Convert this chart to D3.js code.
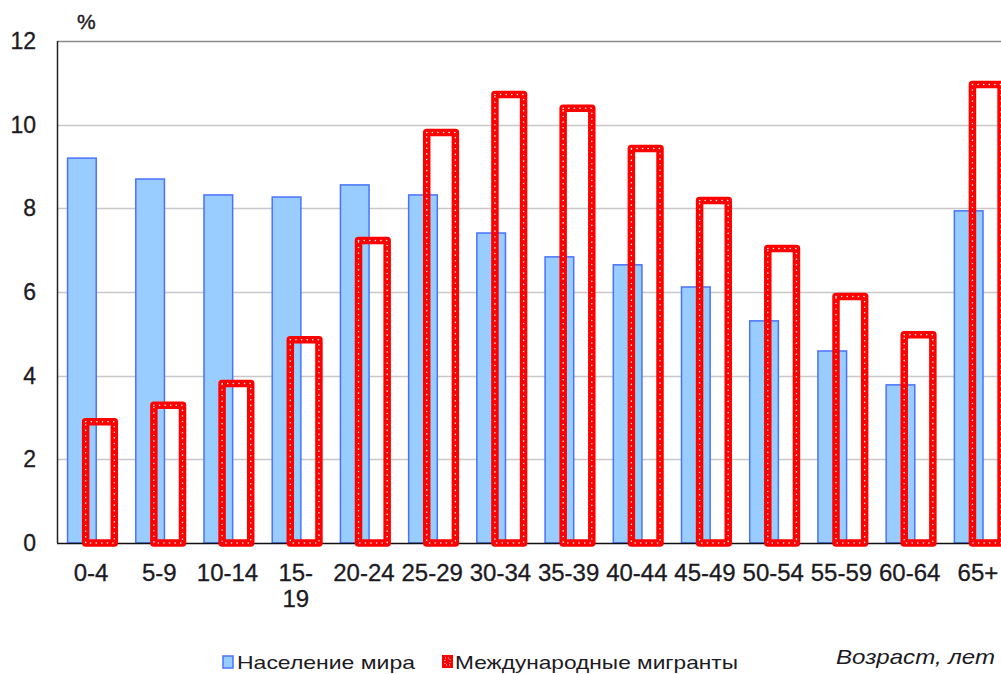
<!DOCTYPE html>
<html><head><meta charset="utf-8">
<script src="https://cdn.jsdelivr.net/npm/d3@7"></script>
<style>body{margin:0;background:#fff;} svg{display:block;font-family:"Liberation Sans",Arial,sans-serif;}</style>
</head><body>
<svg id="c" width="1001" height="674"></svg>
<script>
const categories = ["0-4","5-9","10-14","15-19","20-24","25-29","30-34","35-39","40-44","45-49","50-54","55-59","60-64","65+"];
const worldPopulation = [9.2,8.7,8.32,8.27,8.56,8.32,7.41,6.84,6.65,6.12,5.31,4.59,3.78,7.94];
const migrants = [2.9,3.29,3.81,4.86,7.23,9.81,10.72,10.39,9.43,8.19,7.04,5.89,4.98,10.96];
const yTicks = [0,2,4,6,8,10,12];
const seriesNames = ["Население мира","Международные мигранты"];

(function(){
const svg = d3.select("#c");
const pL = 57, pR = 1012, pT = 41, pB = 543;
const x = d3.scaleBand().domain(categories).range([pL, pR]).padding(0);
const y = d3.scaleLinear().domain([0,12]).range([pB, pT]);
const bw = x.bandwidth();
const txt = "#1c1a22";

// gridlines
svg.append("g").selectAll("line").data(yTicks.filter(d=>d>0)).join("line")
  .attr("x1", pL).attr("x2", 1001)
  .attr("y1", d=>Math.round(y(d))+0.5).attr("y2", d=>Math.round(y(d))+0.5)
  .attr("stroke", d=> d===12 ? "#8a8a8a" : "#c8c8c8").attr("stroke-width", 1.5);

// y tick labels
svg.append("g").selectAll("text").data(yTicks).join("text")
  .attr("x", 36).attr("y", d=>y(d)+8)
  .attr("text-anchor","end").attr("font-size",23).attr("fill",txt)
  .attr("stroke",txt).attr("stroke-width",0.3)
  .text(d=>d);
svg.append("text").attr("x",77).attr("y",29).attr("font-size",21).attr("fill",txt).attr("stroke",txt).attr("stroke-width",0.4).text("%");

// blue bars
svg.append("g").selectAll("rect").data(categories).join("rect")
  .attr("x", c=>x(c)+bw*0.155).attr("width", bw*0.42)
  .attr("y", (c,i)=>y(worldPopulation[i])).attr("height",(c,i)=>pB-y(worldPopulation[i]))
  .attr("fill","#99ccff").attr("stroke","#4a72ff").attr("stroke-width",1.5);

// axes lines
svg.append("line").attr("x1",pL).attr("x2",1001).attr("y1",pB+0.5).attr("y2",pB+0.5).attr("stroke","#111").attr("stroke-width",1.5);
svg.append("line").attr("x1",pL+0.5).attr("x2",pL+0.5).attr("y1",pT).attr("y2",pB).attr("stroke","#222").attr("stroke-width",1.5);

// red bars
const rg = svg.append("g");
rg.selectAll("rect.r").data(categories).join("rect").attr("class","r")
  .attr("x", c=>x(c)+bw*0.42).attr("width", bw*0.42)
  .attr("y", (c,i)=>y(migrants[i])).attr("height",(c,i)=>pB-y(migrants[i]))
  .attr("fill","none").attr("stroke","#ff0000").attr("stroke-width",7.5).attr("stroke-linejoin","round");
rg.selectAll("rect.w").data(categories).join("rect").attr("class","w")
  .attr("x", c=>x(c)+bw*0.42).attr("width", bw*0.42)
  .attr("y", (c,i)=>y(migrants[i])).attr("height",(c,i)=>pB-y(migrants[i]))
  .attr("fill","none").attr("stroke","#fff").attr("stroke-width",1.5)
  .attr("stroke-dasharray","0.1 5.5").attr("stroke-linecap","round");

// x labels
const xl = svg.append("g").attr("font-size",24).attr("fill",txt).attr("stroke",txt).attr("stroke-width",0.3).attr("text-anchor","middle");
categories.forEach(c=>{
  const cx = x(c)+bw/2;
  if (c==="15-19") {
    xl.append("text").attr("x",cx).attr("y",581).text("15-");
    xl.append("text").attr("x",cx).attr("y",607).text("19");
  } else {
    xl.append("text").attr("x",cx).attr("y",581).text(c);
  }
});

// legend
svg.append("rect").attr("x",223).attr("y",656).attr("width",10).attr("height",12).attr("fill","#99ccff").attr("stroke","#4a72ff").attr("stroke-width",1.5);
svg.append("text").attr("x",237).attr("y",669).attr("font-size",18.5).attr("fill",txt).attr("textLength",178).attr("lengthAdjust","spacingAndGlyphs").text(seriesNames[0]);
svg.append("rect").attr("x",443).attr("y",656).attr("width",9).attr("height",11).attr("fill","#ff0000").attr("stroke","#ff0000").attr("stroke-width",2);
svg.append("rect").attr("x",445).attr("y",658).attr("width",5).attr("height",7).attr("fill","none").attr("stroke","#fff").attr("stroke-width",1).attr("stroke-dasharray","1 2");
svg.append("text").attr("x",455).attr("y",669).attr("font-size",18.5).attr("fill",txt).attr("textLength",283).attr("lengthAdjust","spacingAndGlyphs").text(seriesNames[1]);
svg.append("text").attr("x",836).attr("y",664).attr("font-size",21).attr("font-style","italic").attr("fill",txt).attr("textLength",159).attr("lengthAdjust","spacingAndGlyphs").text("Возраст, лет");
})();
</script>
</body></html>
